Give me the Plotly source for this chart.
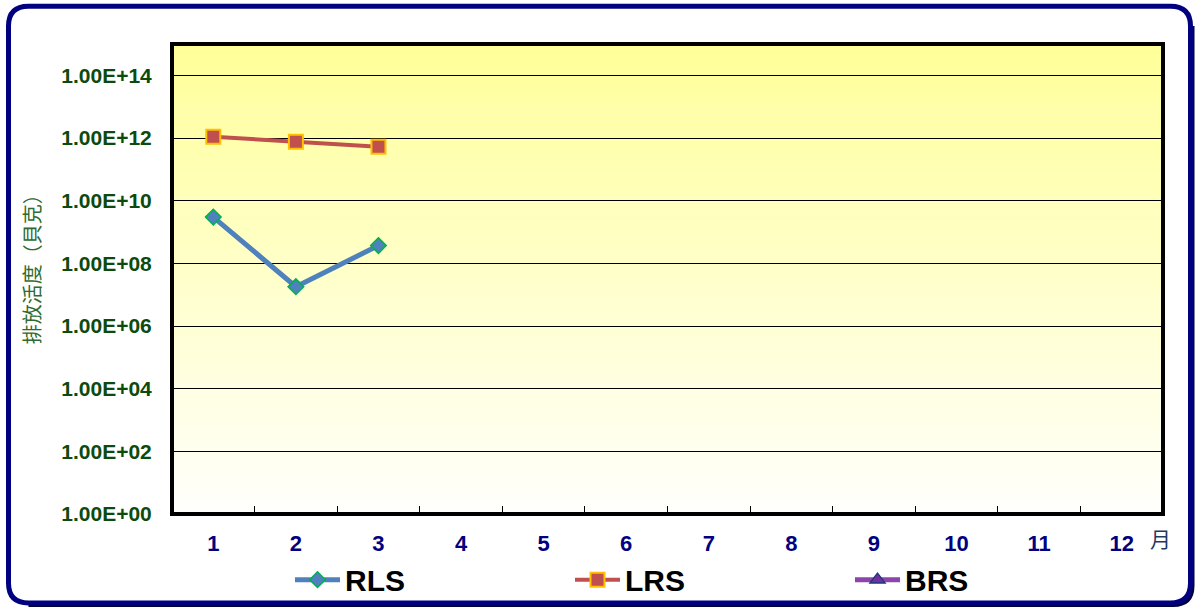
import plotly.graph_objects as go

months = [str(i) for i in range(1, 13)]
rls_x = ["1", "2", "3"]
rls_vals = [3.0e9, 1.8e7, 3.7e8]
lrs_x = ["1", "2", "3"]
lrs_vals = [1.1e12, 7.6e11, 5.3e11]
brs_x = [None]
brs_vals = [None]
ytick_vals = [1e0, 1e2, 1e4, 1e6, 1e8, 1e10, 1e12, 1e14]
ytick_text = ["1.00E+00", "1.00E+02", "1.00E+04", "1.00E+06", "1.00E+08", "1.00E+10", "1.00E+12", "1.00E+14"]
y_title = "排放活度（貝克）"
x_unit = "月"

# vertical compensation for the capture
K = 618 / 610
W, H = 1196, 618
ML, MR = 172, 33
MT = round(43 * K)
MB = round(H - 514 * K)
pw, ph = W - ML - MR, H - MT - MB

def px(x):
    return (x - ML) / pw

def py(y):
    return (H - MB - y * K) / ph

fig = go.Figure()
fig.add_trace(go.Scatter(x=rls_x, y=rls_vals, name="RLS", mode="lines+markers",
                         line=dict(color="#4F81BD", width=5),
                         marker=dict(symbol="diamond", size=12, color="#4F81BD",
                                     line=dict(color="#00B050", width=1.5))))
fig.add_trace(go.Scatter(x=lrs_x, y=lrs_vals, name="LRS", mode="lines+markers",
                         line=dict(color="#C0504D", width=4),
                         marker=dict(symbol="square", size=14, color="#C0504D",
                                     line=dict(color="#FFC000", width=2))))
fig.add_trace(go.Scatter(x=brs_x, y=brs_vals, name="BRS", mode="lines+markers",
                         line=dict(color="#8E44AD", width=5),
                         marker=dict(symbol="triangle-up", size=13, color="#7030A0",
                                     line=dict(color="#1F3A7A", width=1.5))))

shapes = []
n = 80
for i in range(n):
    t = i / (n - 1)
    b = int(round(153 + (252 - 153) * t))
    shapes.append(dict(type="rect", xref="x domain", yref="y domain",
                       x0=0, x1=1, y0=1 - (i + 1) / n, y1=1 - i / n + 0.0005,
                       fillcolor=f"rgb(255,255,{b})", line=dict(width=0), layer="below"))

shapes.append(dict(type="rect", xref="x domain", yref="y domain", x0=0, x1=1, y0=0, y1=1,
                   line=dict(color="black", width=4), layer="above"))

x0, x1, y0, y1, r = 8.5, 1190.5, 5.5, 603.5, 20
path = (f"M {px(x0 + r)},{py(y0)} L {px(x1 - r)},{py(y0)} "
        f"Q {px(x1)},{py(y0)} {px(x1)},{py(y0 + r)} "
        f"L {px(x1)},{py(y1 - r)} Q {px(x1)},{py(y1)} {px(x1 - r)},{py(y1)} "
        f"L {px(x0 + r)},{py(y1)} Q {px(x0)},{py(y1)} {px(x0)},{py(y1 - r)} "
        f"L {px(x0)},{py(y0 + r)} Q {px(x0)},{py(y0)} {px(x0 + r)},{py(y0)} Z")
s = 2.5
shadow = (f"M {px(x1 + s)},{py(y0 + r)} L {px(x1 + s)},{py(y1 - r + s)} "
          f"Q {px(x1 + s)},{py(y1 + s)} {px(x1 - r + s)},{py(y1 + s)} L {px(x0 + r)},{py(y1 + s)}")
shapes.append(dict(type="path", xref="paper", yref="paper", path=shadow,
                   line=dict(color="#00003A", width=3)))
shapes.append(dict(type="path", xref="paper", yref="paper", path=path,
                   line=dict(color="#000080", width=5)))

fig.update_layout(
    width=W, height=H,
    margin=dict(l=ML, r=MR, t=MT, b=MB),
    paper_bgcolor="white", plot_bgcolor="white",
    font=dict(family="Arial, Liberation Sans, sans-serif"),
    shapes=shapes,
    showlegend=True,
    legend=dict(orientation="h", x=px(290), y=py(580), xanchor="left", yanchor="middle",
                entrywidth=220, entrywidthmode="pixels",
                font=dict(size=30, color="black", family="Arial, Liberation Sans, sans-serif", weight="bold"),
                itemwidth=45, bgcolor="rgba(0,0,0,0)"),
    xaxis=dict(type="category", categoryorder="array", categoryarray=months,
               range=[-0.5, 11.5], tickmode="array", tickvals=months,
               ticks="inside", tickson="boundaries", ticklen=8, tickcolor="black", tickwidth=1,
               showgrid=False, showline=False, ticklabelstandoff=14,
               tickfont=dict(size=22, color="#000080", weight="bold"), zeroline=False),
    yaxis=dict(type="log", range=[0, 15], tickmode="array", tickvals=ytick_vals, ticktext=ytick_text,
               showgrid=True, gridcolor="black", gridwidth=1,
               ticks="outside", ticklen=15, tickcolor="rgba(0,0,0,0)",
               showline=False,
               tickfont=dict(size=21, color="#0D4A0D", weight="bold"), zeroline=False),
    annotations=[
        dict(text=y_title, textangle=-90, xref="paper", yref="paper", x=px(31), y=py(264),
             xanchor="center", yanchor="middle",
             showarrow=False, font=dict(size=20, color="#2E6B2E", family="Noto Sans CJK TC")),
        dict(text=x_unit, xref="paper", yref="paper", x=px(1160), y=py(538),
             xanchor="center", yanchor="middle",
             showarrow=False, font=dict(size=21, color="#1F3864", family="Noto Sans CJK TC")),
    ],
)

js = """
var de = document.documentElement, bd = document.body;
de.style.margin='0'; de.style.padding='0'; de.style.overflow='hidden';
bd.style.margin='0'; bd.style.padding='0'; bd.style.overflow='hidden';
"""
fig.write_html("out.html", config={"displayModeBar": False}, post_script=js)
